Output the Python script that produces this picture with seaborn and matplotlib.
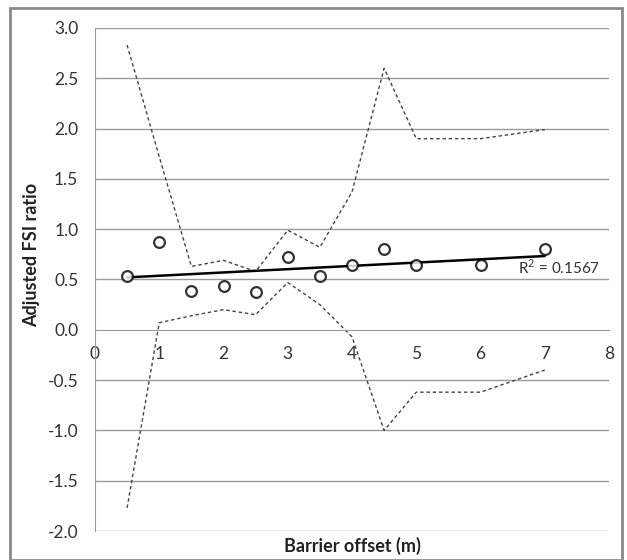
import matplotlib
matplotlib.use("Agg")
import matplotlib.pyplot as plt
import seaborn as sns
import pandas as pd
from matplotlib.patches import Rectangle

offset = [0.5, 1, 1.5, 2, 2.5, 3, 3.5, 4, 4.5, 5, 6, 7]
fsi_ratio = [0.53, 0.87, 0.39, 0.44, 0.38, 0.72, 0.53, 0.64, 0.80, 0.64, 0.64, 0.80]
upper = [2.83, 1.72, 0.63, 0.69, 0.58, 0.99, 0.82, 1.37, 2.60, 1.90, 1.90, 1.99]
lower = [-1.77, 0.07, 0.14, 0.20, 0.15, 0.47, 0.25, -0.07, -1.00, -0.62, -0.62, -0.40]
yticks = [-2.0, -1.5, -1.0, -0.5, 0.0, 0.5, 1.0, 1.5, 2.0, 2.5, 3.0]
xticks = [0, 1, 2, 3, 4, 5, 6, 7, 8]
r2_label = "R$^2$ = 0.1567"

sns.set_style("white")
plt.rcParams['font.family'] = ['Lato', 'DejaVu Sans']
plt.rcParams['axes.unicode_minus'] = False
plt.rcParams['mathtext.fontset'] = 'custom'
plt.rcParams['mathtext.rm'] = 'Lato'

df = pd.DataFrame({"x": offset, "y": fsi_ratio, "up": upper, "lo": lower})

fig = plt.figure(figsize=(6.27, 5.6), dpi=100)
ax = fig.add_axes([95/627, 1-531/560, (609-95)/627, (531-28)/560])

for yv in yticks:
    if yv != 0:
        ax.axhline(yv, color="#9a9a9a", lw=1.0, zorder=0)

sns.lineplot(data=df, x="x", y="up", ax=ax, color="#444444", lw=1.0,
             linestyle=(0, (2.5, 2)), zorder=2)
sns.lineplot(data=df, x="x", y="lo", ax=ax, color="#444444", lw=1.0,
             linestyle=(0, (2.5, 2)), zorder=2)
sns.regplot(data=df, x="x", y="y", ax=ax, ci=None, truncate=True,
            scatter_kws=dict(s=60, facecolors="white", edgecolors="black", linewidths=1.6, zorder=4),
            line_kws=dict(color="black", lw=1.8, zorder=3))

ax.set_xlim(0, 8)
ax.set_ylim(-2, 3)
ax.set_xticks(xticks)
ax.set_yticks(yticks)
ax.set_yticklabels([f"{v:.1f}" for v in yticks])
ax.set_xticklabels([str(v) for v in xticks])
ax.spines['top'].set_visible(False)
ax.spines['right'].set_visible(False)
ax.spines['bottom'].set_position(('data', 0))
ax.spines['bottom'].set_color("#9a9a9a")
ax.spines['left'].set_color("#9a9a9a")
ax.tick_params(axis='x', direction='out', length=5, color="#9a9a9a", labelsize=12.5, pad=7, labelcolor="#333333")
ax.tick_params(axis='y', direction='out', length=5, color="#9a9a9a", labelsize=12.5, pad=7, labelcolor="#333333")
ax.set_xlabel("")
ax.set_ylabel("")

ax.text(6.58, 0.62, r2_label, fontsize=11, color="#333333", va="center", ha="left")

fig.text(32/627, 1-255/560, "Adjusted FSI ratio", rotation=90, ha="center", va="center",
         fontsize=13, fontweight="bold", color="#222222")
fig.text(352/627, 1-546/560, "Barrier offset (m)", ha="center", va="center",
         fontsize=13, fontweight="bold", color="#222222")

fig.patches.append(Rectangle((10/627, 0.0), (622-10)/627, (560-8)/560, transform=fig.transFigure,
                             fill=False, edgecolor="#8a8a8a", lw=2))

fig.savefig("out.png", dpi=100)
